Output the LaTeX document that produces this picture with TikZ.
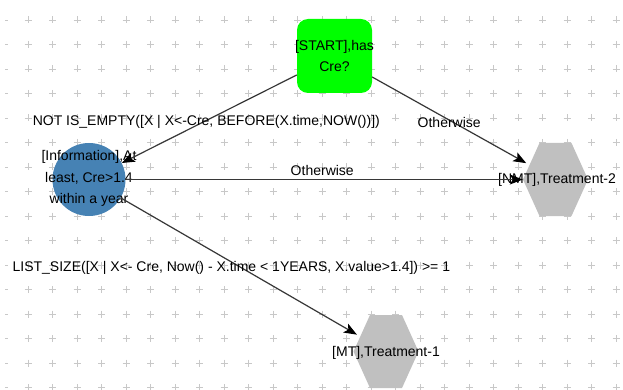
\documentclass[tikz,border=0pt]{standalone}
\usepackage{fontspec}
\setmainfont{Liberation Sans}
\usetikzlibrary{arrows.meta,shapes.geometric,calc}
\definecolor{startgreen}{RGB}{0,255,0}
\definecolor{infoblue}{RGB}{70,130,180}
\definecolor{hexgray}{RGB}{192,192,192}
\definecolor{plusgray}{RGB}{200,200,200}
\definecolor{linegray}{RGB}{55,55,55}
\begin{document}
\begin{tikzpicture}[x=1pt,y=-1pt,
  plusmark/.style={draw=plusgray, line width=0.9pt},
  edgeline/.style={draw=linegray, line width=1.2pt, -{Stealth[length=13pt,width=10pt,inset=3pt,color=black]}},
  edgelabel/.style={font=\fontsize{14}{16}\selectfont, inner sep=0pt},
  nodetext/.style={font=\fontsize{14}{21.5}\selectfont, align=center, inner sep=0pt},
  startbox/.style={rectangle, rounded corners=11pt, fill=startgreen, minimum width=75pt, minimum height=74pt, inner sep=0pt},
  infocircle/.style={circle, fill=infoblue, minimum size=73pt, inner sep=0pt},
  hexclip/.style={ellipse, minimum width=65pt, minimum height=73pt, inner sep=0pt},
  hexfill/.style={fill=hexgray},
]
\fill[white] (0,0) rectangle (623,390);
\useasboundingbox (0,0) rectangle (623,390);
% grid of plus marks
\foreach \j in {0,...,15}{
  \draw[plusmark] (5, {20+24.5*\j}) -- ++(3,0);
  \foreach \i in {1,...,25}{
    \draw[plusmark] ({24.5*\i}, {20+24.5*\j}) -- ++(7,0)
                    ({3.5+24.5*\i}, {16.5+24.5*\j}) -- ++(0,7);
  }
}
% hexagon backgrounds
\coordinate (nmtc) at (555.5,179.5);
\coordinate (mtc) at (386,351.5);
\foreach \c in {nmtc,mtc}{
  \fill[hexfill] ($(\c)+(-32.5,0)$) -- ($(\c)+(-16,-36.5)$) -- ($(\c)+(16,-36.5)$)
    -- ($(\c)+(32.5,0)$) -- ($(\c)+(16,36.5)$) -- ($(\c)+(-16,36.5)$) -- cycle;
}
% nodes
\node[startbox, label={[nodetext]center:{[START],has\\Cre?}}] (start) at (334.5,56) {};
\node[infocircle, label={[nodetext, yshift=1pt]center:{[Information],At\\least, Cre>1.4\\within a year}}] (info) at (89,179.5) {};
\node[hexclip, label={[nodetext, xshift=1.5pt]center:{[NMT],Treatment-2}}] (nmt) at (nmtc) {};
\node[hexclip, label={[nodetext, yshift=-1.5pt]center:{[MT],Treatment-1}}] (mt) at (mtc) {};
% connectors
\draw[edgeline] (start) -- node[edgelabel, yshift=-2.5pt, xshift=-3pt]{NOT IS\_EMPTY([X | X<-Cre, BEFORE(X.time,NOW())])} (info);
\draw[edgeline] (start) -- node[edgelabel, yshift=-2.5pt]{Otherwise} (nmt);
\draw[edgeline] (info) -- node[edgelabel, yshift=9.5pt, xshift=-2pt]{Otherwise} (nmt);
\draw[edgeline] (info) -- node[edgelabel, yshift=-2pt, xshift=-7.5pt]{LIST\_SIZE([X | X<- Cre, Now() - X.time < 1YEARS, X.value>1.4]) >= 1} (mt);
\end{tikzpicture}
\end{document}
